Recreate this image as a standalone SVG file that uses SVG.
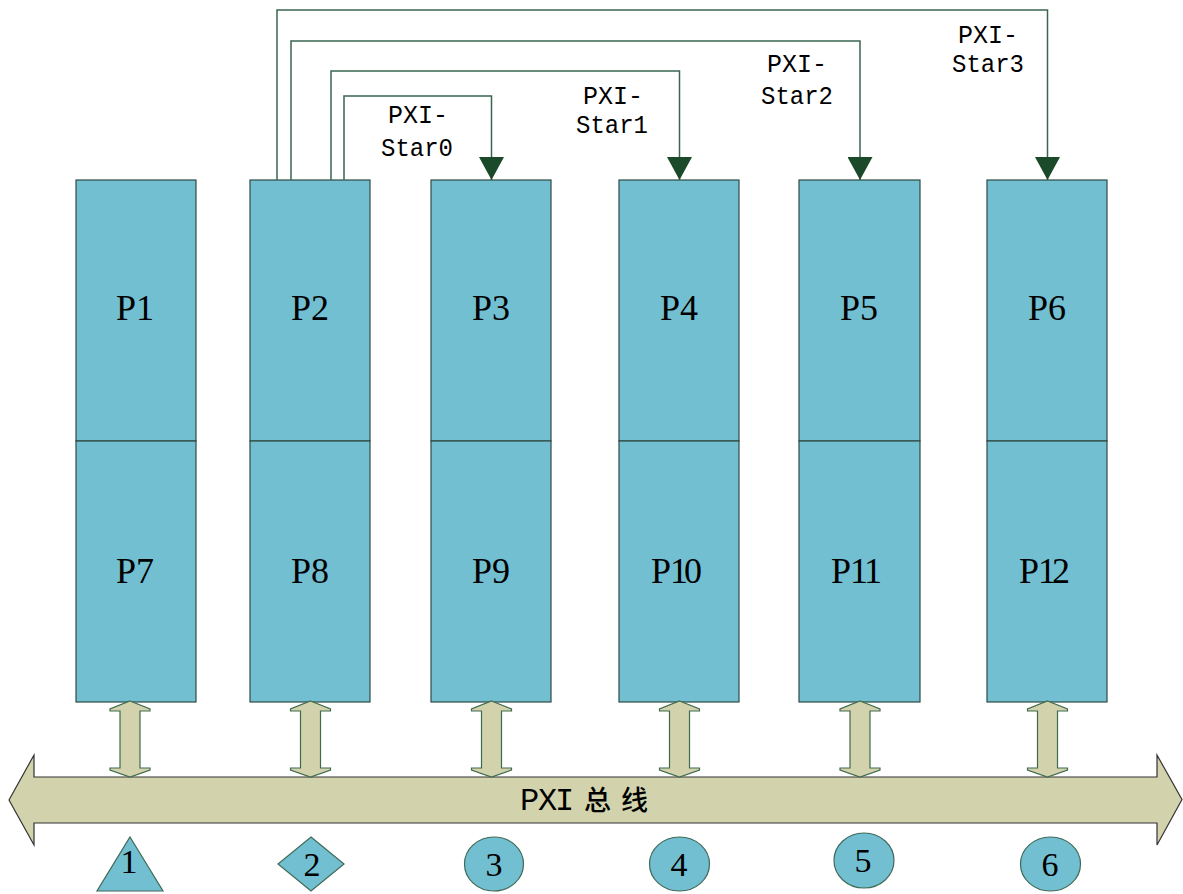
<svg xmlns="http://www.w3.org/2000/svg" width="1183" height="894" viewBox="0 0 1183 894">
<style>
.box{fill:#72bfd2;stroke:#2f4a45;stroke-width:1.2}
.pl{font-family:"Liberation Serif","Times New Roman",serif;font-size:36px;fill:#000;text-anchor:middle}
.pls{font-family:"Liberation Serif","Times New Roman",serif;font-size:36px;fill:#000}
.num{font-family:"Liberation Serif","Times New Roman",serif;font-size:34px;fill:#000;text-anchor:middle}
.star{font-family:"Liberation Mono","Courier New",monospace;font-size:26px;fill:#000;text-anchor:middle}
.busl{font-family:"Liberation Mono","Courier New",monospace;font-size:32px;fill:#000}
.cjk{font-family:"Noto Sans CJK SC","Noto Sans CJK TC",sans-serif;font-size:27px;font-weight:500;fill:#000}
.conn{fill:none;stroke:#3a6650;stroke-width:1.5}
.varrow{fill:#d2d3ac;stroke:#3f6a4c;stroke-width:1.2}
.shape{fill:#72bfd2;stroke:#3f6a58;stroke-width:1.2}
</style>
<defs>
<marker id="ah" viewBox="0 0 23 25" refX="23" refY="12.5" markerWidth="23" markerHeight="25" markerUnits="userSpaceOnUse" orient="auto">
<path d="M0,0 L23,12.5 L0,25 z" fill="#1b4a2b"/>
</marker>
<polygon id="va" points="0,0 20,8 20,10 10,10 10,67 20,67 20,69 0,76 -20,69 -20,67 -10,67 -10,10 -20,10 -20,8"/>
</defs>

<g id="bus">
<polygon points="9,800 34,755 34,777 1157,777 1157,755 1182,799.5 1157,845 1157,823 34,823 34,845" fill="#d2d3ac" stroke="#333" stroke-width="1.2"/>
<text class="busl" x="520 538 555" y="810">PXI</text>
<text class="cjk" x="584 621" y="810">总线</text>
</g>

<g id="col1">
<rect class="box" x="76" y="180" width="120" height="261"/>
<rect class="box" x="76" y="441" width="120" height="261"/>
<text class="pl" x="135" y="320">P1</text>
<text class="pl" x="135" y="583">P7</text>
</g>
<g id="col2">
<rect class="box" x="250" y="180" width="120" height="261"/>
<rect class="box" x="250" y="441" width="120" height="261"/>
<text class="pl" x="310" y="320">P2</text>
<text class="pl" x="310" y="583">P8</text>
</g>
<g id="col3">
<rect class="box" x="431" y="180" width="120" height="261"/>
<rect class="box" x="431" y="441" width="120" height="261"/>
<text class="pl" x="491" y="320">P3</text>
<text class="pl" x="491" y="583">P9</text>
</g>
<g id="col4">
<rect class="box" x="619" y="180" width="120" height="261"/>
<rect class="box" x="619" y="441" width="120" height="261"/>
<text class="pl" x="679" y="320">P4</text>
<text class="pls" x="651 670 684" y="583">P10</text>
</g>
<g id="col5">
<rect class="box" x="799" y="180" width="121" height="261"/>
<rect class="box" x="799" y="441" width="121" height="261"/>
<text class="pl" x="859" y="320">P5</text>
<text class="pls" x="831 850 864" y="583">P11</text>
</g>
<g id="col6">
<rect class="box" x="987" y="180" width="120" height="261"/>
<rect class="box" x="987" y="441" width="120" height="261"/>
<text class="pl" x="1047" y="320">P6</text>
<text class="pls" x="1019 1038 1052" y="583">P12</text>
</g>

<g id="connectors">
<path class="conn" d="M344,180 V96 H491.5 V180" marker-end="url(#ah)"/>
<path class="conn" d="M331,180 V71 H679.5 V180" marker-end="url(#ah)"/>
<path class="conn" d="M291,180 V41 H860 V180" marker-end="url(#ah)"/>
<path class="conn" d="M277,180 V10 H1047.5 V180" marker-end="url(#ah)" stroke="#1f4a32"/>
<use href="#va" class="varrow" x="130" y="701"/>
<use href="#va" class="varrow" x="310.5" y="701"/>
<use href="#va" class="varrow" x="491.5" y="701"/>
<use href="#va" class="varrow" x="679.5" y="701"/>
<use href="#va" class="varrow" x="860" y="701"/>
<use href="#va" class="varrow" x="1047.5" y="701"/>
</g>

<g id="labels">
<text class="star" x="418" y="123" textLength="60" lengthAdjust="spacingAndGlyphs">PXI-</text>
<text class="star" x="417" y="156" textLength="72" lengthAdjust="spacingAndGlyphs">Star0</text>
<text class="star" x="613" y="104" textLength="60" lengthAdjust="spacingAndGlyphs">PXI-</text>
<text class="star" x="612" y="133" textLength="72" lengthAdjust="spacingAndGlyphs">Star1</text>
<text class="star" x="797" y="72" textLength="60" lengthAdjust="spacingAndGlyphs">PXI-</text>
<text class="star" x="797" y="104" textLength="72" lengthAdjust="spacingAndGlyphs">Star2</text>
<text class="star" x="988" y="43" textLength="60" lengthAdjust="spacingAndGlyphs">PXI-</text>
<text class="star" x="988" y="72" textLength="72" lengthAdjust="spacingAndGlyphs">Star3</text>
</g>

<g id="s1">
<polygon class="shape" points="130,837 163,891 97,891"/>
<text class="num" x="129" y="873">1</text>
</g>
<g id="s2">
<polygon class="shape" points="311,837 344,864 311,891 278,864"/>
<text class="num" x="312" y="876">2</text>
</g>
<g id="s3">
<ellipse class="shape" cx="494" cy="864" rx="29.5" ry="27"/>
<text class="num" x="494" y="876">3</text>
</g>
<g id="s4">
<ellipse class="shape" cx="679.5" cy="864" rx="30" ry="27"/>
<text class="num" x="679" y="876">4</text>
</g>
<g id="s5">
<ellipse class="shape" cx="864" cy="860.5" rx="30" ry="27.5"/>
<text class="num" x="863" y="872">5</text>
</g>
<g id="s6">
<ellipse class="shape" cx="1050.5" cy="864" rx="30" ry="27"/>
<text class="num" x="1050" y="876">6</text>
</g>
</svg>
